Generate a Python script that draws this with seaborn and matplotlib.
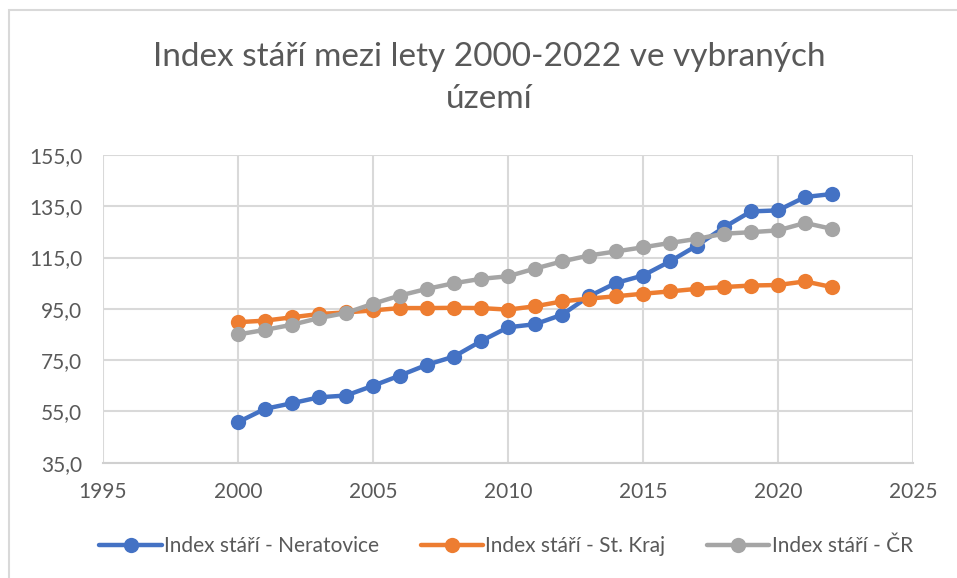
import numpy as np
import pandas as pd
import matplotlib
matplotlib.use("Agg")
import matplotlib.pyplot as plt
import seaborn as sns
from matplotlib.patches import Rectangle

years = list(range(2000, 2023))
neratovice = [50.8, 56.0, 58.2, 60.5, 61.2, 65.0, 69.0, 73.2, 76.4, 82.4, 87.8, 89.0,
              92.7, 99.9, 105.1, 108.0, 113.5, 119.7, 126.8, 133.0, 133.4, 138.6, 139.8]
st_kraj = [89.8, 90.4, 91.7, 93.0, 93.6, 94.4, 95.3, 95.3, 95.4, 95.3, 94.7, 96.0,
           97.9, 99.0, 99.9, 100.9, 101.8, 102.8, 103.5, 104.1, 104.3, 105.7, 103.5]
cr = [85.0, 86.8, 88.8, 91.4, 93.4, 97.0, 100.2, 102.8, 105.0, 106.7, 107.7, 110.7,
      113.5, 115.8, 117.4, 119.0, 120.7, 122.3, 124.3, 124.9, 125.6, 128.5, 126.2]
series_names = ["Index stáří - Neratovice", "Index stáří - St. Kraj", "Index stáří - ČR"]
colors = ["#4472C4", "#ED7D31", "#A5A5A5"]
title = "Index stáří mezi lety 2000-2022 ve vybraných\núzemí"
x_ticks = [1995, 2000, 2005, 2010, 2015, 2020, 2025]
y_ticks = [35, 55, 75, 95, 115, 135, 155]

df = pd.concat([
    pd.DataFrame({"Rok": years, "Hodnota": vals, "Serie": name})
    for name, vals in zip(series_names, [neratovice, st_kraj, cr])
])

sns.set_theme(style="white")
plt.rcParams["font.family"] = ["Lato", "DejaVu Sans"]
text_color = "#595959"

fig = plt.figure(figsize=(9.57, 5.78), dpi=100)
ax = fig.add_axes([103/957, 1-462.7/578, (913-103)/957, (462.7-155)/578])

sns.lineplot(data=df, x="Rok", y="Hodnota", hue="Serie", palette=colors,
             marker="o", markersize=11, markeredgewidth=0, linewidth=3.2,
             ax=ax, legend=True, zorder=3)

ax.set_xlim(1995, 2025)
ax.set_ylim(35, 155)
ax.set_xticks(x_ticks)
ax.set_yticks(y_ticks)
ax.set_xticklabels([str(t) for t in x_ticks])
ax.set_yticklabels([f"{t:.1f}".replace(".", ",") for t in y_ticks])
ax.grid(True, color="#D9D9D9", linewidth=1.5, zorder=0)
ax.set_axisbelow(True)
ax.set_xlabel("")
ax.set_ylabel("")
for s in ["top", "right", "left"]:
    ax.spines[s].set_visible(False)
ax.spines["bottom"].set_color("#D0D0D0")
ax.spines["bottom"].set_linewidth(1.5)
ax.tick_params(axis="both", length=0, labelsize=15, colors=text_color)
ax.tick_params(axis="y", pad=15)
ax.tick_params(axis="x", pad=14)

handles, labels = ax.get_legend_handles_labels()
ax.get_legend().remove()
leg = fig.legend(handles, labels, loc="center", bbox_to_anchor=(506/957, 1-546/578),
                 ncol=3, frameon=False, fontsize=15, handlelength=3.0,
                 handletextpad=0.1, columnspacing=2.0)
for t in leg.get_texts():
    t.set_color(text_color)

fig.text(489/957, 1-78/578, title, ha="center", va="center", fontsize=24,
         color=text_color, linespacing=1.5)

fig.patches.append(Rectangle((8.5/957, -0.1), 2, 1.1 - 10.5/578, transform=fig.transFigure,
                             fill=False, edgecolor="#D9D9D9", linewidth=1.5))

fig.savefig("out.png", dpi=100, facecolor="white")
